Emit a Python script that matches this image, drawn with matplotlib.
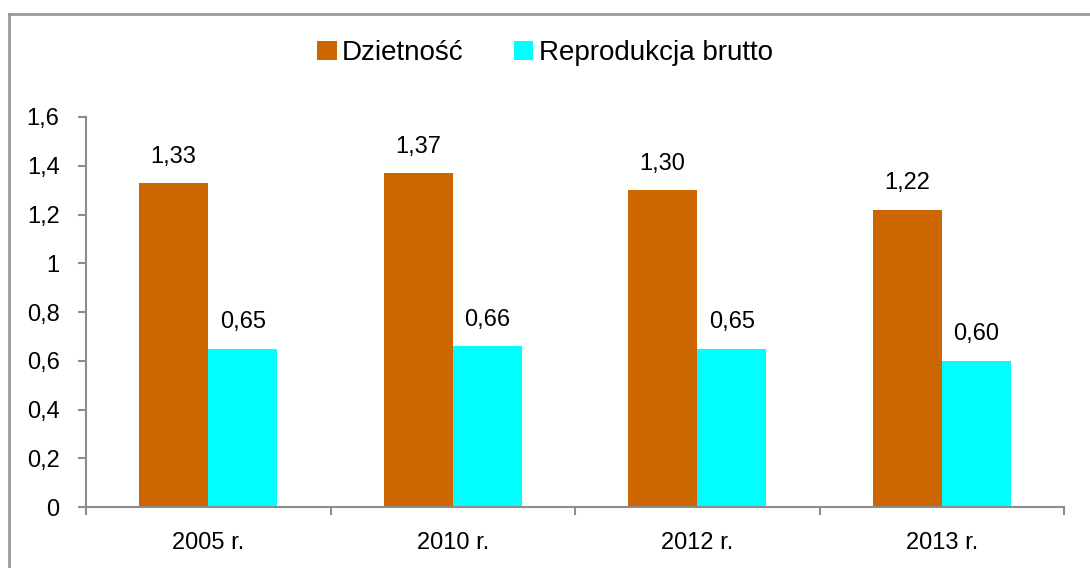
import matplotlib.pyplot as plt
import numpy as np

plt.rcParams["font.family"] = ["Liberation Sans", "DejaVu Sans"]

# dane
lata = ["2005 r.", "2010 r.", "2012 r.", "2013 r."]
dzietnosc = [1.33, 1.37, 1.30, 1.22]
reprodukcja = [0.65, 0.66, 0.65, 0.60]
y_ticks = [0, 0.2, 0.4, 0.6, 0.8, 1, 1.2, 1.4, 1.6]

kolor_d = "#CC6600"
kolor_r = "#00FFFF"
szary = "#8C8C8C"


def fmt(v):
    s = ("%.1f" % v).replace(".", ",")
    return s[:-2] if s.endswith(",0") else s


fig = plt.figure(figsize=(10.9, 5.68), dpi=100)
ax = fig.add_axes([86 / 1090, 1 - 507 / 568, (1064 - 86) / 1090, 390 / 568])

x = np.arange(len(lata))
w = 0.283
b1 = ax.bar(x - w / 2, dzietnosc, width=w, color=kolor_d, label="Dzietność")
b2 = ax.bar(x + w / 2, reprodukcja, width=w, color=kolor_r, label="Reprodukcja brutto")

# etykiety wartości
for bars, vals in ((b1, dzietnosc), (b2, reprodukcja)):
    for rect, v in zip(bars, vals):
        ax.annotate(("%.2f" % v).replace(".", ","),
                    (rect.get_x() + rect.get_width() / 2, v),
                    xytext=(0, 11), textcoords="offset points",
                    ha="center", va="bottom", fontsize=17)

ax.set_xlim(-0.5, len(lata) - 0.5)
ax.set_ylim(0, 1.6)
ax.set_yticks(y_ticks)
ax.set_yticklabels([fmt(v) for v in y_ticks])
ax.set_xticks(x)
ax.set_xticklabels(lata)
ax.set_xticks(np.arange(-0.5, len(lata)), minor=True)
ax.tick_params(axis="x", which="major", length=0, pad=18, labelsize=17)
ax.tick_params(axis="x", which="minor", length=6, width=1.5, color=szary, direction="out")
ax.tick_params(axis="y", length=6, width=1.5, color=szary, labelsize=17, pad=13)

for s in ("top", "right"):
    ax.spines[s].set_visible(False)
for s in ("left", "bottom"):
    ax.spines[s].set_color(szary)
    ax.spines[s].set_linewidth(1.5)

fig.legend(handles=[b1, b2], loc="center", bbox_to_anchor=(0.5, 1 - 53 / 568),
           ncol=2, frameon=False, fontsize=20, handlelength=0.7, handleheight=0.7,
           handletextpad=0.2, columnspacing=1.8)

# ramka wykresu (widoczna góra i lewa krawędź)
fig.add_artist(plt.Line2D([9 / 1090, 1], [1 - 14 / 568, 1 - 14 / 568],
                          transform=fig.transFigure, color="#999999", lw=2))
fig.add_artist(plt.Line2D([9 / 1090, 9 / 1090], [0, 1 - 14 / 568],
                          transform=fig.transFigure, color="#999999", lw=2))

plt.savefig("out.png", dpi=100)
